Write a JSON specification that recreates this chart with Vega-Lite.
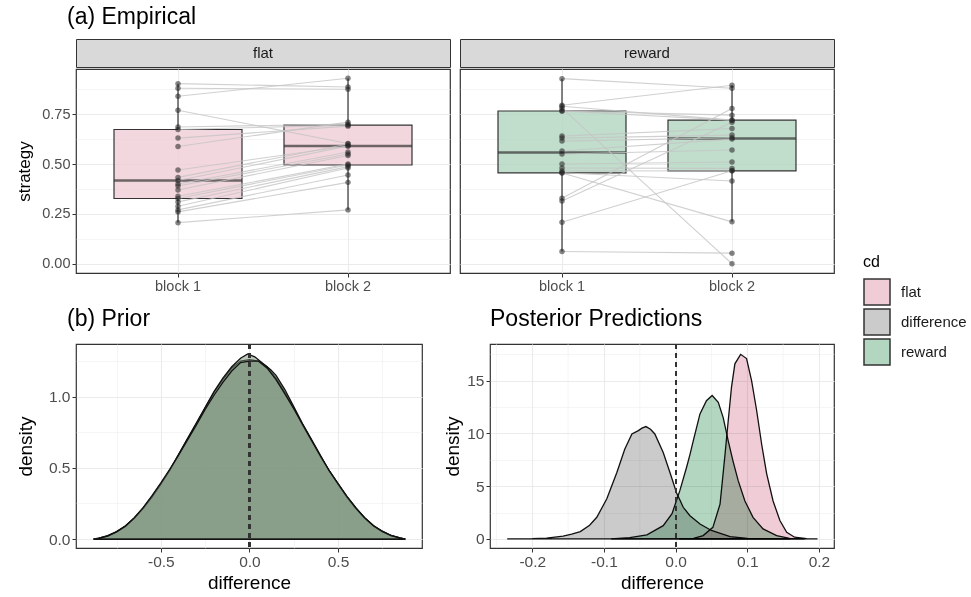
{
  "$schema": "https://vega.github.io/schema/vega-lite/v6.json",
  "background": "white",
  "padding": {"left": 14, "top": 5, "right": 5, "bottom": 5},
  "config": {
    "font": "Liberation Sans",
    "view": {"stroke": "#333333", "strokeWidth": 1.2},
    "axis": {"gridColor": "#ebebeb", "domain": false, "tickColor": "#333333", "tickSize": 4, "labelColor": "#4d4d4d", "labelFontSize": 14.5, "labelPadding": 2, "labelOverlap": false, "titleFontSize": 17, "titleFontWeight": "normal", "titleColor": "#000000"},
    "title": {"fontWeight": "normal", "fontSize": 23, "anchor": "start", "frame": "group", "color": "#000000"}
  },
  "datasets": {
    "strips": [{"panel": "flat"}, {"panel": "reward"}],
    "minorx": [{"x": -0.25}, {"x": -0.15}, {"x": -0.05}, {"x": 0.05}, {"x": 0.15}],
    "emp": [
      {"id": "f1", "cd": "flat", "block": "block 1", "strategy": 0.903}, {"id": "f1", "cd": "flat", "block": "block 2", "strategy": 0.886},
      {"id": "f2", "cd": "flat", "block": "block 1", "strategy": 0.88}, {"id": "f2", "cd": "flat", "block": "block 2", "strategy": 0.875},
      {"id": "f3", "cd": "flat", "block": "block 1", "strategy": 0.84}, {"id": "f3", "cd": "flat", "block": "block 2", "strategy": 0.93},
      {"id": "f4", "cd": "flat", "block": "block 1", "strategy": 0.77}, {"id": "f4", "cd": "flat", "block": "block 2", "strategy": 0.603},
      {"id": "f5", "cd": "flat", "block": "block 1", "strategy": 0.686}, {"id": "f5", "cd": "flat", "block": "block 2", "strategy": 0.70},
      {"id": "f6", "cd": "flat", "block": "block 1", "strategy": 0.673}, {"id": "f6", "cd": "flat", "block": "block 2", "strategy": 0.695},
      {"id": "f7", "cd": "flat", "block": "block 1", "strategy": 0.63}, {"id": "f7", "cd": "flat", "block": "block 2", "strategy": 0.69},
      {"id": "f8", "cd": "flat", "block": "block 1", "strategy": 0.588}, {"id": "f8", "cd": "flat", "block": "block 2", "strategy": 0.71},
      {"id": "f9", "cd": "flat", "block": "block 1", "strategy": 0.47}, {"id": "f9", "cd": "flat", "block": "block 2", "strategy": 0.59},
      {"id": "f10", "cd": "flat", "block": "block 1", "strategy": 0.433}, {"id": "f10", "cd": "flat", "block": "block 2", "strategy": 0.60},
      {"id": "f11", "cd": "flat", "block": "block 1", "strategy": 0.417}, {"id": "f11", "cd": "flat", "block": "block 2", "strategy": 0.59},
      {"id": "f12", "cd": "flat", "block": "block 1", "strategy": 0.40}, {"id": "f12", "cd": "flat", "block": "block 2", "strategy": 0.56},
      {"id": "f13", "cd": "flat", "block": "block 1", "strategy": 0.39}, {"id": "f13", "cd": "flat", "block": "block 2", "strategy": 0.55},
      {"id": "f14", "cd": "flat", "block": "block 1", "strategy": 0.37}, {"id": "f14", "cd": "flat", "block": "block 2", "strategy": 0.543},
      {"id": "f15", "cd": "flat", "block": "block 1", "strategy": 0.338}, {"id": "f15", "cd": "flat", "block": "block 2", "strategy": 0.50},
      {"id": "f16", "cd": "flat", "block": "block 1", "strategy": 0.327}, {"id": "f16", "cd": "flat", "block": "block 2", "strategy": 0.495},
      {"id": "f17", "cd": "flat", "block": "block 1", "strategy": 0.31}, {"id": "f17", "cd": "flat", "block": "block 2", "strategy": 0.487},
      {"id": "f18", "cd": "flat", "block": "block 1", "strategy": 0.288}, {"id": "f18", "cd": "flat", "block": "block 2", "strategy": 0.48},
      {"id": "f19", "cd": "flat", "block": "block 1", "strategy": 0.27}, {"id": "f19", "cd": "flat", "block": "block 2", "strategy": 0.445},
      {"id": "f20", "cd": "flat", "block": "block 1", "strategy": 0.26}, {"id": "f20", "cd": "flat", "block": "block 2", "strategy": 0.408},
      {"id": "f21", "cd": "flat", "block": "block 1", "strategy": 0.206}, {"id": "f21", "cd": "flat", "block": "block 2", "strategy": 0.27},
      {"id": "r1", "cd": "reward", "block": "block 1", "strategy": 0.928}, {"id": "r1", "cd": "reward", "block": "block 2", "strategy": 0.88},
      {"id": "r2", "cd": "reward", "block": "block 1", "strategy": 0.795}, {"id": "r2", "cd": "reward", "block": "block 2", "strategy": 0.895},
      {"id": "r3", "cd": "reward", "block": "block 1", "strategy": 0.79}, {"id": "r3", "cd": "reward", "block": "block 2", "strategy": 0.72},
      {"id": "r4", "cd": "reward", "block": "block 1", "strategy": 0.78}, {"id": "r4", "cd": "reward", "block": "block 2", "strategy": 0.0},
      {"id": "r5", "cd": "reward", "block": "block 1", "strategy": 0.766}, {"id": "r5", "cd": "reward", "block": "block 2", "strategy": 0.745},
      {"id": "r6", "cd": "reward", "block": "block 1", "strategy": 0.766}, {"id": "r6", "cd": "reward", "block": "block 2", "strategy": 0.72},
      {"id": "r7", "cd": "reward", "block": "block 1", "strategy": 0.64}, {"id": "r7", "cd": "reward", "block": "block 2", "strategy": 0.678},
      {"id": "r8", "cd": "reward", "block": "block 1", "strategy": 0.63}, {"id": "r8", "cd": "reward", "block": "block 2", "strategy": 0.645},
      {"id": "r9", "cd": "reward", "block": "block 1", "strategy": 0.615}, {"id": "r9", "cd": "reward", "block": "block 2", "strategy": 0.632},
      {"id": "r10", "cd": "reward", "block": "block 1", "strategy": 0.565}, {"id": "r10", "cd": "reward", "block": "block 2", "strategy": 0.625},
      {"id": "r11", "cd": "reward", "block": "block 1", "strategy": 0.55}, {"id": "r11", "cd": "reward", "block": "block 2", "strategy": 0.57},
      {"id": "r12", "cd": "reward", "block": "block 1", "strategy": 0.50}, {"id": "r12", "cd": "reward", "block": "block 2", "strategy": 0.51},
      {"id": "r13", "cd": "reward", "block": "block 1", "strategy": 0.48}, {"id": "r13", "cd": "reward", "block": "block 2", "strategy": 0.478},
      {"id": "r14", "cd": "reward", "block": "block 1", "strategy": 0.465}, {"id": "r14", "cd": "reward", "block": "block 2", "strategy": 0.466},
      {"id": "r15", "cd": "reward", "block": "block 1", "strategy": 0.456}, {"id": "r15", "cd": "reward", "block": "block 2", "strategy": 0.415},
      {"id": "r16", "cd": "reward", "block": "block 1", "strategy": 0.455}, {"id": "r16", "cd": "reward", "block": "block 2", "strategy": 0.21},
      {"id": "r17", "cd": "reward", "block": "block 1", "strategy": 0.328}, {"id": "r17", "cd": "reward", "block": "block 2", "strategy": 0.778},
      {"id": "r18", "cd": "reward", "block": "block 1", "strategy": 0.315}, {"id": "r18", "cd": "reward", "block": "block 2", "strategy": 0.71},
      {"id": "r19", "cd": "reward", "block": "block 1", "strategy": 0.208}, {"id": "r19", "cd": "reward", "block": "block 2", "strategy": 0.466},
      {"id": "r20", "cd": "reward", "block": "block 1", "strategy": 0.061}, {"id": "r20", "cd": "reward", "block": "block 2", "strategy": 0.053}
    ],
    "prior": [
      {"cd": "flat", "x": -0.88, "density": 0}, {"cd": "flat", "x": -0.85, "density": 0.006}, {"cd": "flat", "x": -0.8, "density": 0.024}, {"cd": "flat", "x": -0.75, "density": 0.053}, {"cd": "flat", "x": -0.7, "density": 0.093}, {"cd": "flat", "x": -0.65, "density": 0.148}, {"cd": "flat", "x": -0.6, "density": 0.218}, {"cd": "flat", "x": -0.55, "density": 0.3}, {"cd": "flat", "x": -0.5, "density": 0.39}, {"cd": "flat", "x": -0.45, "density": 0.48}, {"cd": "flat", "x": -0.4, "density": 0.59}, {"cd": "flat", "x": -0.35, "density": 0.7}, {"cd": "flat", "x": -0.3, "density": 0.81}, {"cd": "flat", "x": -0.25, "density": 0.92}, {"cd": "flat", "x": -0.2, "density": 1.03}, {"cd": "flat", "x": -0.15, "density": 1.12}, {"cd": "flat", "x": -0.1, "density": 1.2}, {"cd": "flat", "x": -0.05, "density": 1.25}, {"cd": "flat", "x": 0, "density": 1.26}, {"cd": "flat", "x": 0.05, "density": 1.25}, {"cd": "flat", "x": 0.1, "density": 1.21}, {"cd": "flat", "x": 0.15, "density": 1.13}, {"cd": "flat", "x": 0.2, "density": 1.03}, {"cd": "flat", "x": 0.25, "density": 0.92}, {"cd": "flat", "x": 0.3, "density": 0.8}, {"cd": "flat", "x": 0.35, "density": 0.69}, {"cd": "flat", "x": 0.4, "density": 0.58}, {"cd": "flat", "x": 0.45, "density": 0.48}, {"cd": "flat", "x": 0.5, "density": 0.39}, {"cd": "flat", "x": 0.55, "density": 0.3}, {"cd": "flat", "x": 0.6, "density": 0.22}, {"cd": "flat", "x": 0.65, "density": 0.15}, {"cd": "flat", "x": 0.7, "density": 0.095}, {"cd": "flat", "x": 0.75, "density": 0.055}, {"cd": "flat", "x": 0.8, "density": 0.025}, {"cd": "flat", "x": 0.85, "density": 0.008}, {"cd": "flat", "x": 0.88, "density": 0},
      {"cd": "difference", "x": -0.88, "density": 0}, {"cd": "difference", "x": -0.85, "density": 0.007}, {"cd": "difference", "x": -0.8, "density": 0.022}, {"cd": "difference", "x": -0.75, "density": 0.05}, {"cd": "difference", "x": -0.7, "density": 0.09}, {"cd": "difference", "x": -0.65, "density": 0.145}, {"cd": "difference", "x": -0.6, "density": 0.215}, {"cd": "difference", "x": -0.55, "density": 0.295}, {"cd": "difference", "x": -0.5, "density": 0.385}, {"cd": "difference", "x": -0.45, "density": 0.485}, {"cd": "difference", "x": -0.4, "density": 0.595}, {"cd": "difference", "x": -0.35, "density": 0.705}, {"cd": "difference", "x": -0.3, "density": 0.815}, {"cd": "difference", "x": -0.25, "density": 0.925}, {"cd": "difference", "x": -0.2, "density": 1.035}, {"cd": "difference", "x": -0.15, "density": 1.13}, {"cd": "difference", "x": -0.1, "density": 1.21}, {"cd": "difference", "x": -0.05, "density": 1.27}, {"cd": "difference", "x": -0.01, "density": 1.3}, {"cd": "difference", "x": 0.03, "density": 1.28}, {"cd": "difference", "x": 0.08, "density": 1.23}, {"cd": "difference", "x": 0.12, "density": 1.19}, {"cd": "difference", "x": 0.15, "density": 1.15}, {"cd": "difference", "x": 0.2, "density": 1.05}, {"cd": "difference", "x": 0.25, "density": 0.93}, {"cd": "difference", "x": 0.3, "density": 0.81}, {"cd": "difference", "x": 0.35, "density": 0.7}, {"cd": "difference", "x": 0.4, "density": 0.59}, {"cd": "difference", "x": 0.45, "density": 0.48}, {"cd": "difference", "x": 0.5, "density": 0.385}, {"cd": "difference", "x": 0.55, "density": 0.295}, {"cd": "difference", "x": 0.6, "density": 0.215}, {"cd": "difference", "x": 0.65, "density": 0.148}, {"cd": "difference", "x": 0.7, "density": 0.092}, {"cd": "difference", "x": 0.75, "density": 0.052}, {"cd": "difference", "x": 0.8, "density": 0.024}, {"cd": "difference", "x": 0.85, "density": 0.008}, {"cd": "difference", "x": 0.88, "density": 0},
      {"cd": "reward", "x": -0.88, "density": 0}, {"cd": "reward", "x": -0.85, "density": 0.005}, {"cd": "reward", "x": -0.8, "density": 0.02}, {"cd": "reward", "x": -0.75, "density": 0.05}, {"cd": "reward", "x": -0.7, "density": 0.09}, {"cd": "reward", "x": -0.65, "density": 0.15}, {"cd": "reward", "x": -0.6, "density": 0.22}, {"cd": "reward", "x": -0.55, "density": 0.305}, {"cd": "reward", "x": -0.5, "density": 0.395}, {"cd": "reward", "x": -0.45, "density": 0.49}, {"cd": "reward", "x": -0.4, "density": 0.59}, {"cd": "reward", "x": -0.35, "density": 0.695}, {"cd": "reward", "x": -0.3, "density": 0.8}, {"cd": "reward", "x": -0.25, "density": 0.91}, {"cd": "reward", "x": -0.2, "density": 1.01}, {"cd": "reward", "x": -0.15, "density": 1.1}, {"cd": "reward", "x": -0.1, "density": 1.18}, {"cd": "reward", "x": -0.05, "density": 1.24}, {"cd": "reward", "x": 0, "density": 1.25}, {"cd": "reward", "x": 0.05, "density": 1.25}, {"cd": "reward", "x": 0.1, "density": 1.2}, {"cd": "reward", "x": 0.15, "density": 1.12}, {"cd": "reward", "x": 0.2, "density": 1.02}, {"cd": "reward", "x": 0.25, "density": 0.915}, {"cd": "reward", "x": 0.3, "density": 0.805}, {"cd": "reward", "x": 0.35, "density": 0.695}, {"cd": "reward", "x": 0.4, "density": 0.585}, {"cd": "reward", "x": 0.45, "density": 0.48}, {"cd": "reward", "x": 0.5, "density": 0.39}, {"cd": "reward", "x": 0.55, "density": 0.3}, {"cd": "reward", "x": 0.6, "density": 0.22}, {"cd": "reward", "x": 0.65, "density": 0.15}, {"cd": "reward", "x": 0.7, "density": 0.093}, {"cd": "reward", "x": 0.75, "density": 0.054}, {"cd": "reward", "x": 0.8, "density": 0.024}, {"cd": "reward", "x": 0.85, "density": 0.007}, {"cd": "reward", "x": 0.88, "density": 0}
    ],
    "post": [
      {"cd": "difference", "x": -0.235, "density": 0}, {"cd": "difference", "x": -0.2, "density": 0.02}, {"cd": "difference", "x": -0.18, "density": 0.08}, {"cd": "difference", "x": -0.157, "density": 0.26}, {"cd": "difference", "x": -0.145, "density": 0.45}, {"cd": "difference", "x": -0.133, "density": 0.69}, {"cd": "difference", "x": -0.12, "density": 1.3}, {"cd": "difference", "x": -0.11, "density": 2.05}, {"cd": "difference", "x": -0.096, "density": 3.8}, {"cd": "difference", "x": -0.082, "density": 6.3}, {"cd": "difference", "x": -0.071, "density": 8.5}, {"cd": "difference", "x": -0.061, "density": 9.95}, {"cd": "difference", "x": -0.052, "density": 10.27}, {"cd": "difference", "x": -0.047, "density": 10.5}, {"cd": "difference", "x": -0.0414, "density": 10.65}, {"cd": "difference", "x": -0.035, "density": 10.4}, {"cd": "difference", "x": -0.029, "density": 9.95}, {"cd": "difference", "x": -0.0173, "density": 8.2}, {"cd": "difference", "x": -0.0079, "density": 6.3}, {"cd": "difference", "x": 0.0014, "density": 4.36}, {"cd": "difference", "x": 0.006, "density": 3.7}, {"cd": "difference", "x": 0.0106, "density": 3.0}, {"cd": "difference", "x": 0.02, "density": 2.2}, {"cd": "difference", "x": 0.034, "density": 1.42}, {"cd": "difference", "x": 0.05, "density": 0.8}, {"cd": "difference", "x": 0.076, "density": 0.22}, {"cd": "difference", "x": 0.1, "density": 0.06}, {"cd": "difference", "x": 0.13, "density": 0.01}, {"cd": "difference", "x": 0.16, "density": 0},
      {"cd": "reward", "x": -0.09, "density": 0}, {"cd": "reward", "x": -0.064, "density": 0.12}, {"cd": "reward", "x": -0.04, "density": 0.38}, {"cd": "reward", "x": -0.0173, "density": 1.26}, {"cd": "reward", "x": -0.005, "density": 2.4}, {"cd": "reward", "x": 0.006, "density": 4.6}, {"cd": "reward", "x": 0.0153, "density": 6.8}, {"cd": "reward", "x": 0.02, "density": 8.0}, {"cd": "reward", "x": 0.0246, "density": 9.3}, {"cd": "reward", "x": 0.034, "density": 11.85}, {"cd": "reward", "x": 0.043, "density": 13.1}, {"cd": "reward", "x": 0.051, "density": 13.6}, {"cd": "reward", "x": 0.0595, "density": 12.96}, {"cd": "reward", "x": 0.0664, "density": 11.5}, {"cd": "reward", "x": 0.0734, "density": 9.3}, {"cd": "reward", "x": 0.08, "density": 7.4}, {"cd": "reward", "x": 0.0874, "density": 5.5}, {"cd": "reward", "x": 0.0967, "density": 3.6}, {"cd": "reward", "x": 0.108, "density": 2.05}, {"cd": "reward", "x": 0.122, "density": 0.95}, {"cd": "reward", "x": 0.141, "density": 0.32}, {"cd": "reward", "x": 0.159, "density": 0.06}, {"cd": "reward", "x": 0.18, "density": 0},
      {"cd": "flat", "x": 0.005, "density": 0}, {"cd": "flat", "x": 0.025, "density": 0.06}, {"cd": "flat", "x": 0.0385, "density": 0.32}, {"cd": "flat", "x": 0.052, "density": 1.1}, {"cd": "flat", "x": 0.062, "density": 3.3}, {"cd": "flat", "x": 0.069, "density": 8.05}, {"cd": "flat", "x": 0.0734, "density": 11.2}, {"cd": "flat", "x": 0.078, "density": 14.4}, {"cd": "flat", "x": 0.0827, "density": 16.6}, {"cd": "flat", "x": 0.0907, "density": 17.5}, {"cd": "flat", "x": 0.099, "density": 17.1}, {"cd": "flat", "x": 0.106, "density": 15.0}, {"cd": "flat", "x": 0.113, "density": 12.2}, {"cd": "flat", "x": 0.12, "density": 9.0}, {"cd": "flat", "x": 0.127, "density": 6.2}, {"cd": "flat", "x": 0.136, "density": 3.6}, {"cd": "flat", "x": 0.1455, "density": 1.74}, {"cd": "flat", "x": 0.155, "density": 0.63}, {"cd": "flat", "x": 0.166, "density": 0.16}, {"cd": "flat", "x": 0.183, "density": 0.02}, {"cd": "flat", "x": 0.198, "density": 0}
    ]
  },
  "spacing": 13,
  "vconcat": [
    {
      "spacing": 8,
      "hconcat": [
        {
          "spacing": 0,
          "vconcat": [
            {
              "width": 374, "height": 28,
              "title": {"text": "(a) Empirical", "offset": 10, "dx": -9},
              "view": {"fill": "#d9d9d9", "stroke": "#333333"},
              "data": {"name": "strips"},
              "transform": [{"filter": "datum.panel === 'flat'"}],
              "mark": {"type": "text", "fontSize": 15, "color": "#1a1a1a"},
              "encoding": {"text": {"field": "panel"}}
            },
            {
              "width": 374, "height": 204,
              "data": {"name": "emp"},
              "transform": [{"filter": "datum.cd === 'flat'"}],
              "encoding": {
                "x": {"field": "block", "type": "nominal", "scale": {"paddingInner": 0, "paddingOuter": 0.1}, "axis": {"title": null, "labelAngle": 0, "grid": true, "bandPosition": 0.5, "gridWidth": 1.1}},
                "y": {"field": "strategy", "type": "quantitative", "scale": {"domain": [-0.0465, 0.9765], "nice": false, "zero": false}, "axis": {"title": "strategy", "titlePadding": 6, "minExtent": 37, "maxExtent": 37, "values": [0, 0.125, 0.25, 0.375, 0.5, 0.625, 0.75, 0.875], "labelExpr": "datum.value*4 == round(datum.value*4) ? format(datum.value, '.2f') : ''", "gridWidth": {"condition": {"test": "datum.value*4 == round(datum.value*4)", "value": 1.1}, "value": 0.5}, "tickOpacity": {"condition": {"test": "datum.value*4 == round(datum.value*4)", "value": 1}, "value": 0}}}
              },
              "layer": [
                {
                  "mark": {"type": "boxplot", "extent": 1.5, "size": 128, "outliers": false, "box": {"stroke": "#333333", "strokeWidth": 1.2, "fillOpacity": 0.8}, "median": {"color": "#333333", "thickness": 2.5}, "rule": {"color": "#333333", "strokeWidth": 1.2}},
                  "encoding": {"color": {"field": "cd", "type": "nominal", "scale": {"domain": ["flat", "difference", "reward"], "range": ["#f0cdd6", "#cbcbcb", "#b2d6c0"]}, "legend": {"title": "cd", "orient": "none", "legendX": 787, "legendY": 215, "symbolType": "square", "symbolSize": 676, "titleFontSize": 16, "titleFontWeight": "normal", "titleColor": "#000000", "labelFontSize": 15, "labelColor": "#1a1a1a", "rowPadding": -2, "titlePadding": 8, "labelOffset": 10, "encode": {"symbols": {"update": {"stroke": {"value": "#1a1a1a"}, "strokeWidth": {"value": 1.2}, "opacity": {"value": 1}, "fillOpacity": {"value": 1}}}}}}}
                },
                {"mark": {"type": "line", "color": "#c4c4c4", "strokeWidth": 1.1, "opacity": 0.8}, "encoding": {"detail": {"field": "id"}}},
                {"mark": {"type": "point", "filled": true, "size": 30, "color": "#222222", "opacity": 0.55}, "encoding": {}}
              ]
            }
          ]
        },
        {
          "spacing": 0,
          "vconcat": [
            {
              "width": 374, "height": 28,
              "view": {"fill": "#d9d9d9", "stroke": "#333333"},
              "data": {"name": "strips"},
              "transform": [{"filter": "datum.panel === 'reward'"}],
              "mark": {"type": "text", "fontSize": 15, "color": "#1a1a1a"},
              "encoding": {"text": {"field": "panel"}}
            },
            {
              "width": 374, "height": 204,
              "data": {"name": "emp"},
              "transform": [{"filter": "datum.cd === 'reward'"}],
              "encoding": {
                "x": {"field": "block", "type": "nominal", "scale": {"paddingInner": 0, "paddingOuter": 0.1}, "axis": {"title": null, "labelAngle": 0, "grid": true, "bandPosition": 0.5, "gridWidth": 1.1}},
                "y": {"field": "strategy", "type": "quantitative", "scale": {"domain": [-0.0465, 0.9765], "nice": false, "zero": false}, "axis": {"title": null, "labels": false, "ticks": false, "minExtent": 0, "maxExtent": 0, "values": [0, 0.125, 0.25, 0.375, 0.5, 0.625, 0.75, 0.875], "gridWidth": {"condition": {"test": "datum.value*4 == round(datum.value*4)", "value": 1.1}, "value": 0.5}}}
              },
              "layer": [
                {
                  "mark": {"type": "boxplot", "extent": 1.5, "size": 128, "outliers": false, "box": {"stroke": "#333333", "strokeWidth": 1.2, "fillOpacity": 0.8}, "median": {"color": "#333333", "thickness": 2.5}, "rule": {"color": "#333333", "strokeWidth": 1.2}},
                  "encoding": {"color": {"field": "cd", "type": "nominal", "scale": {"domain": ["flat", "difference", "reward"], "range": ["#f0cdd6", "#cbcbcb", "#b2d6c0"]}, "legend": {"title": "cd", "orient": "none", "legendX": 787, "legendY": 215, "symbolType": "square", "symbolSize": 676, "titleFontSize": 16, "titleFontWeight": "normal", "titleColor": "#000000", "labelFontSize": 15, "labelColor": "#1a1a1a", "rowPadding": -2, "titlePadding": 8, "labelOffset": 10, "encode": {"symbols": {"update": {"stroke": {"value": "#1a1a1a"}, "strokeWidth": {"value": 1.2}, "opacity": {"value": 1}, "fillOpacity": {"value": 1}}}}}}}
                },
                {"mark": {"type": "line", "color": "#c4c4c4", "strokeWidth": 1.1, "opacity": 0.8}, "encoding": {"detail": {"field": "id"}}},
                {"mark": {"type": "point", "filled": true, "size": 30, "color": "#222222", "opacity": 0.55}, "encoding": {}}
              ]
            }
          ]
        }
      ]
    },
    {
      "spacing": 19,
      "hconcat": [
        {
          "width": 346, "height": 204,
          "title": {"text": "(b) Prior", "offset": 12, "dx": -9},
          "data": {"name": "prior"},
          "layer": [
            {
              "mark": {"type": "area", "fill": "#799279", "fillOpacity": 0.5, "stroke": "#111111", "strokeWidth": 1.3},
              "encoding": {
                "x": {"field": "x", "type": "quantitative", "scale": {"domain": [-0.979, 0.974], "nice": false, "zero": false}, "axis": {"title": "difference", "titleFontSize": 19, "labelFontSize": 15.5, "values": [-0.75, -0.5, -0.25, 0, 0.25, 0.5, 0.75], "labelExpr": "datum.value*2 == round(datum.value*2) ? replace(format(datum.value, '.1f'), '\u2212', '-') : ''", "gridWidth": {"condition": {"test": "datum.value*2 == round(datum.value*2)", "value": 1.1}, "value": 0.5}, "tickOpacity": {"condition": {"test": "datum.value*2 == round(datum.value*2)", "value": 1}, "value": 0}}},
                "y": {"field": "density", "type": "quantitative", "stack": null, "scale": {"domain": [-0.063, 1.37], "nice": false, "zero": false}, "axis": {"title": "density", "titleFontSize": 19, "labelFontSize": 15.5, "titlePadding": 4, "minExtent": 37, "maxExtent": 37, "values": [0, 0.25, 0.5, 0.75, 1, 1.25], "labelExpr": "datum.value*2 == round(datum.value*2) ? format(datum.value, '.1f') : ''", "gridWidth": {"condition": {"test": "datum.value*2 == round(datum.value*2)", "value": 1.1}, "value": 0.5}, "tickOpacity": {"condition": {"test": "datum.value*2 == round(datum.value*2)", "value": 1}, "value": 0}}},
                "detail": {"field": "cd"}
              }
            },
            {"mark": {"type": "rule", "strokeDash": [5, 4], "color": "#333333", "strokeWidth": 1.2}, "encoding": {"x": {"datum": 0}}}
          ]
        },
        {
          "width": 344, "height": 204,
          "title": {"text": "Posterior Predictions", "offset": 12},
          "layer": [
            {
              "data": {"name": "minorx"},
              "mark": {"type": "rule", "color": "#ebebeb", "strokeWidth": 0.5},
              "encoding": {"x": {"field": "x", "type": "quantitative"}}
            },
            {
              "data": {"name": "post"},
              "mark": {"type": "area", "blend": "multiply", "stroke": "#111111", "strokeWidth": 1.3},
              "encoding": {
                "x": {"field": "x", "type": "quantitative", "scale": {"domain": [-0.259, 0.221], "nice": false, "zero": false}, "axis": {"title": "difference", "titleFontSize": 19, "labelFontSize": 15.5, "gridWidth": 1.1, "values": [-0.2, -0.1, 0, 0.1, 0.2], "format": ".1f", "labelExpr": "replace(datum.label, '\u2212', '-')"}},
                "y": {"field": "density", "type": "quantitative", "stack": null, "scale": {"domain": [-0.86, 18.48], "nice": false, "zero": false}, "axis": {"title": "density", "titleFontSize": 19, "labelFontSize": 15.5, "titlePadding": 5, "minExtent": 23, "maxExtent": 23, "values": [0, 2.5, 5, 7.5, 10, 12.5, 15, 17.5], "labelExpr": "datum.value % 5 == 0 ? format(datum.value, 'd') : ''", "gridWidth": {"condition": {"test": "datum.value % 5 == 0", "value": 1.1}, "value": 0.5}, "tickOpacity": {"condition": {"test": "datum.value % 5 == 0", "value": 1}, "value": 0}}},
                "color": {"field": "cd", "type": "nominal", "scale": {"domain": ["flat", "difference", "reward"], "range": ["#f0cdd6", "#cbcbcb", "#b2d6c0"]}, "legend": {"title": "cd", "orient": "none", "legendX": 787, "legendY": 215, "symbolType": "square", "symbolSize": 676, "titleFontSize": 16, "titleFontWeight": "normal", "titleColor": "#000000", "labelFontSize": 15, "labelColor": "#1a1a1a", "rowPadding": -2, "titlePadding": 8, "labelOffset": 10, "encode": {"symbols": {"update": {"stroke": {"value": "#1a1a1a"}, "strokeWidth": {"value": 1.2}, "opacity": {"value": 1}, "fillOpacity": {"value": 1}}}}}}
              }
            },
            {"data": {"name": "post"}, "mark": {"type": "rule", "strokeDash": [5, 4], "color": "#333333", "strokeWidth": 1.2}, "encoding": {"x": {"datum": 0}}}
          ]
        }
      ]
    }
  ]
}
